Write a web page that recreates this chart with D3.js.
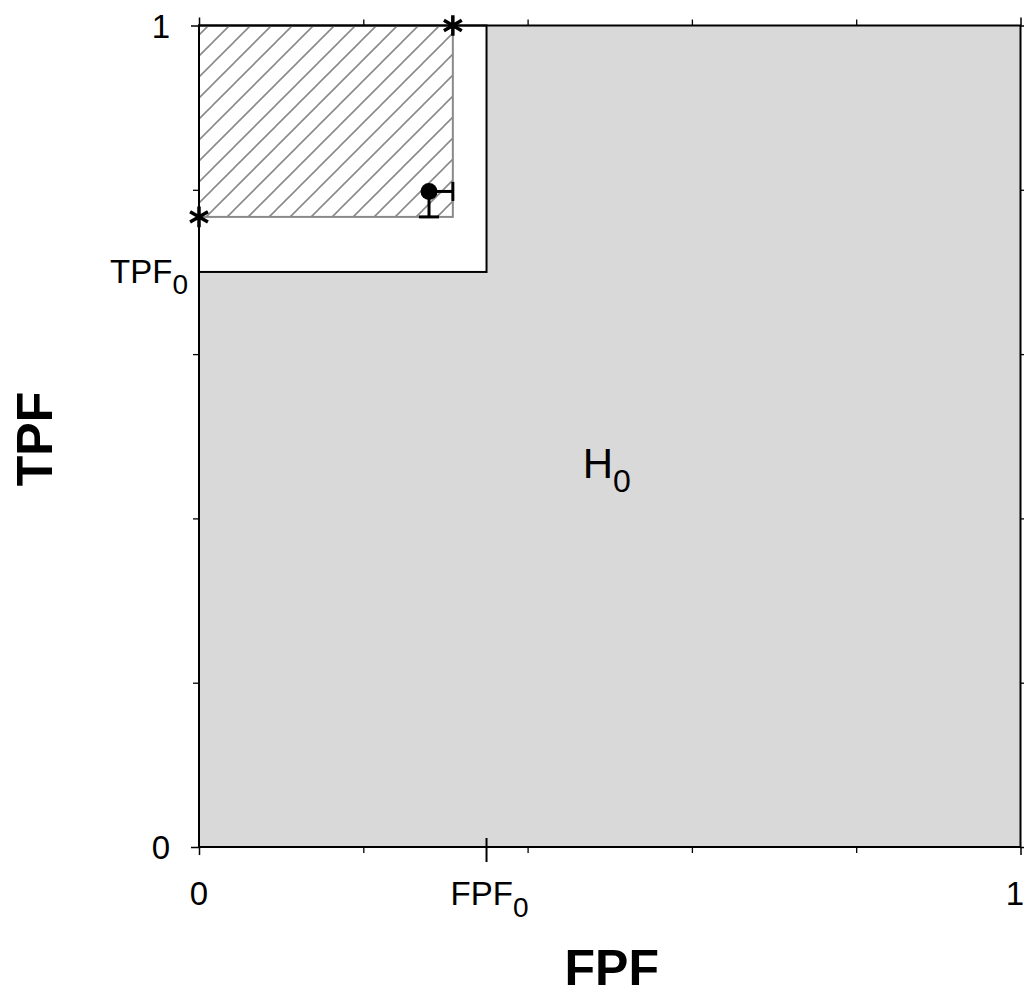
<!DOCTYPE html>
<html>
<head>
<meta charset="utf-8">
<script src="https://cdn.jsdelivr.net/npm/d3@7"></script>
<style>
  html, body { margin: 0; padding: 0; background: #fff; }
  svg { display: block; font-family: "Liberation Sans", Arial, sans-serif; }
</style>
</head>
<body>
<svg id="chart" width="1024" height="997"></svg>
<script>
// ---- data ----
const minorTicks = [0.2, 0.4, 0.6, 0.8];
const endTicks = [0, 1];
const endTickLabels = ["0", "1"];
const FPF0 = 0.35;
const TPF0 = 0.70;
const estimate = { fpf: 0.28, tpf: 0.798 };
const fpfUpperCI = 0.309;
const tpfLowerCI = 0.767;
const starPoints = [[0, 0.767], [0.309, 1]];
const regionLabel = { main: "H", sub: "0", fpf: 0.467, tpf: 0.449 };
const xTitle = "FPF";
const yTitle = "TPF";

// ---- layout ----
const plotLeft = 199, plotTop = 25.5, plotSize = 821.5;
const svg = d3.select("#chart");
const x = d3.scaleLinear().domain([0, 1]).range([plotLeft, plotLeft + plotSize]);
const y = d3.scaleLinear().domain([0, 1]).range([plotTop + plotSize, plotTop]);

// hatch pattern
const defs = svg.append("defs");
const pat = defs.append("pattern")
  .attr("id", "hatch").attr("patternUnits", "userSpaceOnUse")
  .attr("width", 21).attr("height", 21).attr("x", 3);
pat.append("path")
  .attr("d", "M-2,2 l4,-4 M0,21 l21,-21 M19,23 l4,-4")
  .attr("stroke", "#8a8a8a").attr("stroke-width", 1.6).attr("fill", "none");

// H0 region (grey)
svg.append("rect")
  .attr("x", x(0)).attr("y", y(1))
  .attr("width", x(1) - x(0)).attr("height", y(0) - y(1))
  .attr("fill", "#d9d9d9");

// white box (FPF0, TPF0)
svg.append("rect")
  .attr("x", x(0)).attr("y", y(1))
  .attr("width", x(FPF0) - x(0)).attr("height", y(TPF0) - y(1))
  .attr("fill", "#fff").attr("stroke", "#000").attr("stroke-width", 2);

// hatched confidence region
svg.append("rect")
  .attr("x", x(0)).attr("y", y(1))
  .attr("width", x(fpfUpperCI) - x(0)).attr("height", y(tpfLowerCI) - y(1))
  .attr("fill", "url(#hatch)").attr("stroke", "#8a8a8a").attr("stroke-width", 2);

// frame
svg.append("rect")
  .attr("x", x(0)).attr("y", y(1))
  .attr("width", x(1) - x(0)).attr("height", y(0) - y(1))
  .attr("fill", "none").attr("stroke", "#000").attr("stroke-width", 2);

// axes ticks
function styleAxis(g, w) {
  g.select(".domain").remove();
  g.selectAll(".tick line").attr("stroke", "#000").attr("stroke-width", w);
  g.selectAll(".tick text").remove();
}
const axes = [
  [d3.axisBottom, `translate(0,${y(0)})`, x],
  [d3.axisTop, `translate(0,${y(1)})`, x],
  [d3.axisLeft, `translate(${x(0)},0)`, y],
  [d3.axisRight, `translate(${x(1)},0)`, y]
];
axes.forEach(([fn, tr, sc]) => {
  svg.append("g").attr("transform", tr)
    .call(fn(sc).tickValues(minorTicks).tickSize(6).tickFormat(""))
    .call(g => styleAxis(g, 1.3));
  svg.append("g").attr("transform", tr)
    .call(fn(sc).tickValues(endTicks).tickSize(8).tickFormat(""))
    .call(g => styleAxis(g, 1.5));
});

// FPF0 tick crossing the axis
svg.append("line")
  .attr("x1", x(FPF0)).attr("x2", x(FPF0))
  .attr("y1", y(0) - 9).attr("y2", y(0) + 15)
  .attr("stroke", "#000").attr("stroke-width", 2);

// tick labels
const fs = 33;
endTicks.forEach((v, i) => {
  svg.append("text").attr("x", Math.min(x(v), 1015)).attr("y", y(0) + 58)
    .attr("text-anchor", "middle").attr("font-size", fs).text(endTickLabels[i]);
  svg.append("text").attr("x", x(0) - 29).attr("y", y(v) + 12)
    .attr("text-anchor", "end").attr("font-size", fs).text(endTickLabels[i]);
});
function subLabel(tx, ty, anchor, main, sub, f, sf, sdy) {
  const t = svg.append("text").attr("x", tx).attr("y", ty)
    .attr("text-anchor", anchor).attr("font-size", f);
  t.append("tspan").text(main);
  t.append("tspan").attr("font-size", sf).attr("dy", sdy).text(sub);
  return t;
}
subLabel(x(FPF0) + 3, y(0) + 58, "middle", "FPF", "0", fs, 28, 11.5);
subLabel(x(0) - 11, y(TPF0) + 11.5, "end", "TPF", "0", fs, 28, 11);

// region label H0
subLabel(x(regionLabel.fpf), y(regionLabel.tpf), "start", regionLabel.main, regionLabel.sub, 42, 32, 14);

// error bars
const eb = svg.append("g").attr("stroke", "#000").attr("stroke-width", 3).attr("fill", "none");
eb.append("line").attr("x1", x(estimate.fpf)).attr("x2", x(fpfUpperCI))
  .attr("y1", y(estimate.tpf)).attr("y2", y(estimate.tpf));
eb.append("line").attr("x1", x(fpfUpperCI)).attr("x2", x(fpfUpperCI))
  .attr("y1", y(estimate.tpf) - 9.5).attr("y2", y(estimate.tpf) + 9.5);
eb.append("line").attr("x1", x(estimate.fpf)).attr("x2", x(estimate.fpf))
  .attr("y1", y(estimate.tpf)).attr("y2", y(tpfLowerCI));
eb.append("line").attr("x1", x(estimate.fpf) - 10).attr("x2", x(estimate.fpf) + 10)
  .attr("y1", y(tpfLowerCI)).attr("y2", y(tpfLowerCI));
svg.append("circle").attr("cx", x(estimate.fpf)).attr("cy", y(estimate.tpf))
  .attr("r", 8.5).attr("fill", "#000");

// stars
const star = d3.symbol().type(d3.symbolAsterisk).size(300);
svg.selectAll("path.star").data(starPoints).join("path")
  .attr("class", "star")
  .attr("d", star)
  .attr("transform", d => `translate(${x(d[0])},${y(d[1])})`)
  .attr("stroke", "#000").attr("stroke-width", 3.5).attr("fill", "none");

// axis titles
svg.append("text").attr("x", (x(0) + x(1)) / 2 + 2).attr("y", 985)
  .attr("text-anchor", "middle").attr("font-size", 50).attr("font-weight", "bold")
  .text(xTitle);
svg.append("text").attr("transform", `translate(52,${439}) rotate(-90)`)
  .attr("text-anchor", "middle").attr("font-size", 50).attr("font-weight", "bold")
  .text(yTitle);
</script>
</body>
</html>
